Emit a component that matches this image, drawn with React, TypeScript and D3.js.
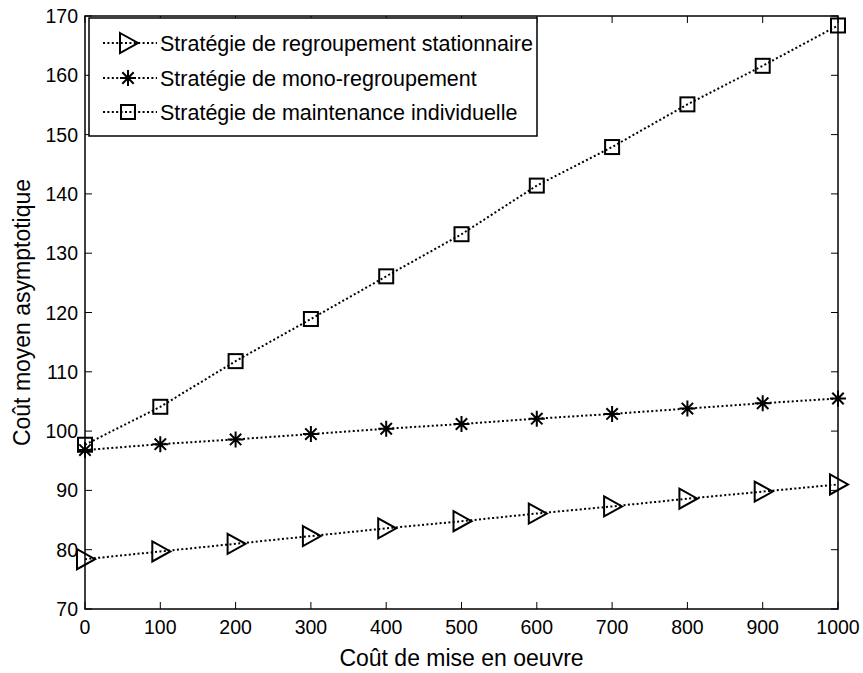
import React from "react";
import * as d3 from "d3";

const xValues = [0, 100, 200, 300, 400, 500, 600, 700, 800, 900, 1000];
const stationnaire = [78.4, 79.7, 81.0, 82.3, 83.6, 84.8, 86.1, 87.3, 88.6, 89.8, 91.0];
const monoRegroupement = [96.8, 97.8, 98.6, 99.5, 100.4, 101.2, 102.1, 102.9, 103.8, 104.7, 105.5];
const individuelle = [97.7, 104.1, 111.8, 118.9, 126.1, 133.2, 141.4, 147.9, 155.1, 161.6, 168.4];
const xTicks = [0, 100, 200, 300, 400, 500, 600, 700, 800, 900, 1000];
const yTicks = [70, 80, 90, 100, 110, 120, 130, 140, 150, 160, 170];
const seriesNames = [
  "Stratégie de regroupement stationnaire",
  "Stratégie de mono-regroupement",
  "Stratégie de maintenance individuelle",
];
const xLabel = "Coût de mise en oeuvre";
const yLabel = "Coût moyen asymptotique";

const W = 863, H = 673;
const L = 85, R = 838, T = 16, B = 609;
const FONT = "'Liberation Sans', Arial, sans-serif";

function Marker({ kind, x, y }: { kind: string; x: number; y: number }) {
  const sw = 2;
  if (kind === "tri") {
    const p = `M${x - 8},${y - 10}L${x + 10},${y}L${x - 8},${y + 10}Z`;
    return <path d={p} fill="none" stroke="#000" strokeWidth={sw} strokeLinejoin="miter" />;
  }
  if (kind === "sq") {
    return <rect x={x - 7} y={y - 7} width={14} height={14} fill="none" stroke="#000" strokeWidth={sw} />;
  }
  const a = 8, b = 5.7;
  const p = `M${x},${y - a}L${x},${y + a}M${x - a},${y}L${x + a},${y}M${x - b},${y - b}L${x + b},${y + b}M${x - b},${y + b}L${x + b},${y - b}`;
  return <path d={p} fill="none" stroke="#000" strokeWidth={sw} />;
}

export default function App() {
  const x = d3.scaleLinear().domain([0, 1000]).range([L, R]);
  const y = d3.scaleLinear().domain([70, 170]).range([B, T]);
  const series = [
    { name: seriesNames[0], values: stationnaire, kind: "tri" },
    { name: seriesNames[1], values: monoRegroupement, kind: "star" },
    { name: seriesNames[2], values: individuelle, kind: "sq" },
  ];
  const line = d3
    .line<number>()
    .x((_, i) => x(xValues[i]))
    .y((d) => y(d));
  const dash = "2,2.4";
  const legendY = [43, 78, 112];
  const tick = 7;
  return (
    <svg width={W} height={H} style={{ position: "absolute", left: 0, top: 0, background: "#fff" }} fontFamily={FONT}>
      <rect x={0} y={0} width={W} height={H} fill="#fff" />
      {series.map((s) => (
        <g key={s.name}>
          <path d={line(s.values) || ""} fill="none" stroke="#000" strokeWidth={2} strokeDasharray={dash} />
          {s.values.map((v, i) => (
            <Marker key={i} kind={s.kind} x={x(xValues[i])} y={y(v)} />
          ))}
        </g>
      ))}
      {xTicks.map((t) => (
        <g key={"x" + t}>
          <line x1={x(t)} x2={x(t)} y1={B} y2={B - tick} stroke="#000" strokeWidth={1} />
          <line x1={x(t)} x2={x(t)} y1={T} y2={T + tick} stroke="#000" strokeWidth={1} />
          <text x={x(t)} y={634} textAnchor="middle" fontSize={19.5}>{t}</text>
        </g>
      ))}
      {yTicks.map((t) => (
        <g key={"y" + t}>
          <line x1={L} x2={L + tick} y1={y(t)} y2={y(t)} stroke="#000" strokeWidth={1} />
          <line x1={R} x2={R - tick} y1={y(t)} y2={y(t)} stroke="#000" strokeWidth={1} />
          <text x={78} y={y(t) + 7} textAnchor="end" fontSize={19.5}>{t}</text>
        </g>
      ))}
      <rect x={L} y={T} width={R - L} height={B - T} fill="none" stroke="#000" strokeWidth={1.5} />
      <rect x={89} y={18} width={448} height={118} fill="#fff" stroke="#000" strokeWidth={1.5} />
      {series.map((s, i) => (
        <g key={"lg" + i}>
          <line x1={103} x2={157} y1={legendY[i]} y2={legendY[i]} stroke="#000" strokeWidth={2} strokeDasharray={dash} />
          <Marker kind={s.kind} x={128} y={legendY[i]} />
          <text x={160} y={legendY[i] + 8} fontSize={21.5}>{s.name}</text>
        </g>
      ))}
      <text x={(L + R) / 2} y={666} textAnchor="middle" fontSize={23}>{xLabel}</text>
      <text transform={`translate(30,${(T + B) / 2}) rotate(-90)`} textAnchor="middle" fontSize={23}>{yLabel}</text>
    </svg>
  );
}
